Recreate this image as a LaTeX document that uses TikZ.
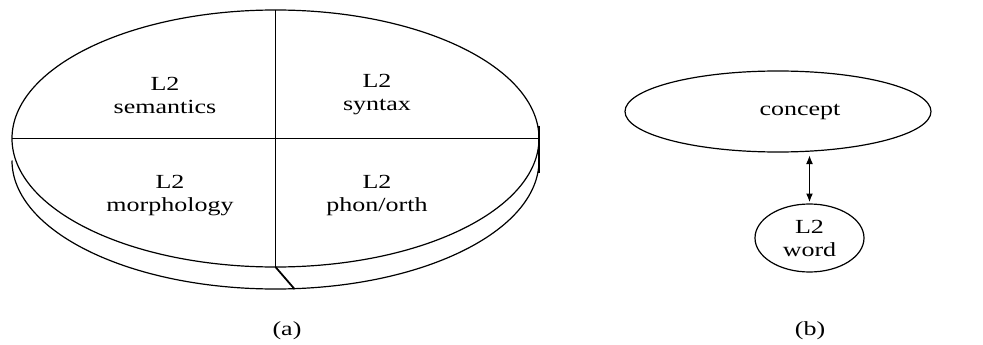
\documentclass[tikz,border=0pt]{standalone}
\usepackage{fontspec}
\setmainfont{Liberation Serif}
\newfontfamily\widefont[FakeStretch=1.3]{Liberation Serif}
\usetikzlibrary{shapes.geometric,arrows.meta}
\tikzset{
  outline/.style={draw=black, line width=1.2pt},
  divider/.style={draw=black, line width=1.8pt},
  lbl/.style={align=center, inner sep=0pt, font=\widefont\fontsize{20}{23}\selectfont},
  captxt/.style={inner sep=0pt, font=\widefont\fontsize{20}{23}\selectfont},
  oval/.style={ellipse, outline, inner sep=0pt, outer sep=0pt},
  arr/.style={line width=1.8pt, {Latex[length=9pt,width=7pt]}-{Latex[length=9pt,width=7pt]}}
}
\begin{document}
\begin{tikzpicture}[x=1pt,y=-1pt]
\useasboundingbox (0,0) rectangle (983,345);
% (a) disk
\node[oval, minimum width=527pt, minimum height=257pt] (disk) at (275.5,138.5) {};
\draw[outline] ([yshift=-22pt]disk.west) arc[start angle=180, end angle=360, x radius=263.5pt, y radius=128.5pt];
\coordinate (shadowbottom) at ([xshift=19pt,yshift=-22pt]disk.south);
\draw[divider] (disk.west) -- (disk.east);
\draw[divider] (disk.north) -- (disk.south);
\draw[divider] (disk.south) -- (shadowbottom);
\draw[divider] ([yshift=13pt]disk.east) -- ([yshift=-34pt]disk.east);
\node[lbl] (sem) at (165,95) {L2\\semantics};
\node[lbl] (syn) at (377,95) {L2\\syntax};
\node[lbl] (mor) at (170,196) {L2\\morphology};
\node[lbl] (pho) at (377,196) {L2\\phon/orth};
\node[captxt] (capa) at (287,331) {(a)};
% (b)
\node[oval, minimum width=306pt, minimum height=81pt, label={[captxt, xshift=22pt]center:concept}] (concept) at (778,111.5) {};
\node[oval, lbl, minimum width=109pt, minimum height=68pt] (word) at (809.5,238) {L2\\word};
\draw[arr, shorten <=3pt, shorten >=1.5pt] (word.north |- concept.south) -- (word.north);
\node[captxt] (capb) at (810,331) {(b)};
\end{tikzpicture}
\end{document}
